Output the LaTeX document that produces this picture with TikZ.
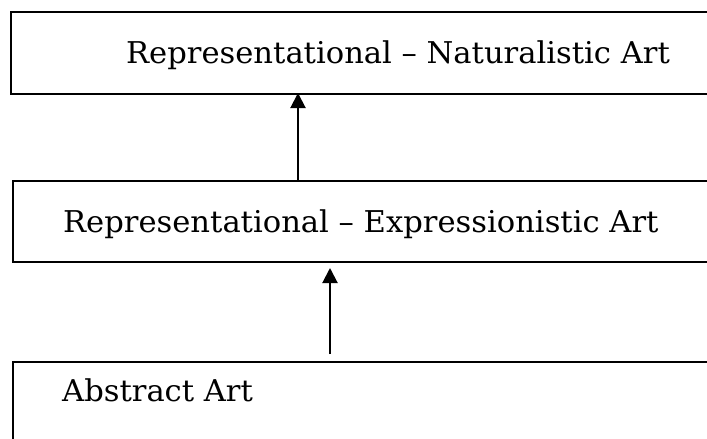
\documentclass[tikz,border=0pt]{standalone}
\usepackage{fontspec}
\setmainfont{DejaVu Serif}
\newfontfamily\lblfont[FakeStretch=1.02]{DejaVu Serif}
\usetikzlibrary{arrows.meta}
\tikzset{
  box/.style={draw=black, line width=1.8pt, rectangle, inner sep=0pt, anchor=north west},
  lbl/.style={anchor=base west, inner sep=0pt, font=\lblfont\fontsize{30}{36}\selectfont},
  arr/.style={line width=2pt, -{Triangle[width=15pt,length=15pt]}}
}
\begin{document}
\begin{tikzpicture}[x=1pt,y=-1pt]
\useasboundingbox (0,0) rectangle (707,439);
\clip (0,0) rectangle (707,439);
\node[box, minimum width=720pt, minimum height=82pt] (top) at (10,11) {};
\node[box, minimum width=720pt, minimum height=81pt] (mid) at (12,180) {};
\node[box, minimum width=720pt, minimum height=120pt] (bot) at (12,361) {};
\node[lbl] (ttop) at (126,63) {Representational – Naturalistic Art};
\node[lbl] (tmid) at (63,232) {Representational – Expressionistic Art};
\node[lbl] (tbot) at (62,401) {Abstract Art};
\coordinate (a1s) at (298,180);
\coordinate (a1e) at (298,93);
\coordinate (a2s) at (330,354);
\coordinate (a2e) at (330,268);
\draw[arr] (a1s) -- (a1e);
\draw[arr] (a2s) -- (a2e);
\end{tikzpicture}
\end{document}
